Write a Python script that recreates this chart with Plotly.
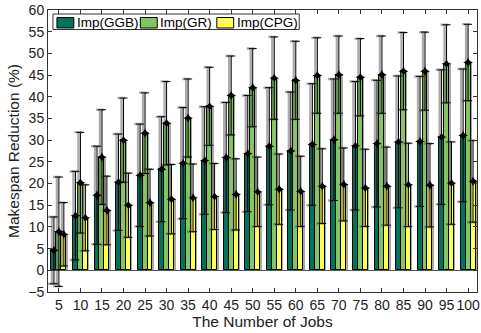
import plotly.graph_objects as go

jobs = [5, 10, 15, 20, 25, 30, 35, 40, 45, 50, 55, 60, 65, 70, 75, 80, 85, 90, 95, 100]
tick_labels = [str(j) for j in jobs]
series_names = ["Imp(GGB)", "Imp(GR)", "Imp(CPG)"]

ggb = [4.6, 12.6, 17.3, 20.3, 21.9, 23.3, 24.7, 25.3, 26.0, 26.9, 28.6, 27.5, 29.0, 30.1, 28.7, 29.2, 29.6, 29.7, 30.7, 31.1]
ggb_err = [7.7, 10.2, 11.3, 11.1, 11.8, 12.1, 12.8, 12.4, 12.7, 13.4, 13.5, 13.6, 14.0, 14.0, 14.8, 14.6, 15.2, 15.0, 15.5, 15.3]
gr = [8.9, 20.2, 26.1, 30.0, 31.6, 33.9, 35.1, 37.8, 40.3, 42.1, 44.3, 43.8, 44.9, 45.1, 44.5, 45.1, 45.9, 45.9, 47.6, 47.9]
gr_err = [12.6, 11.6, 10.9, 9.7, 9.3, 9.6, 9.0, 9.0, 9.1, 9.0, 9.5, 9.0, 8.7, 8.9, 8.9, 8.9, 8.9, 9.0, 9.0, 8.8]
cpg = [8.3, 12.1, 13.8, 15.0, 15.6, 16.4, 16.7, 17.0, 17.5, 18.1, 18.7, 18.2, 19.4, 19.8, 19.0, 19.4, 19.7, 19.6, 20.1, 20.5]
cpg_err = [7.3, 7.6, 7.9, 7.4, 7.7, 8.0, 7.8, 7.6, 8.2, 8.0, 8.1, 8.1, 8.6, 8.4, 8.9, 9.0, 9.6, 9.6, 9.5, 9.4]

colors = ["#00735a", "#84c561", "#ffff55"]
values = [ggb, gr, cpg]
errors = [ggb_err, gr_err, cpg_err]

BAR_W = 1.15          # bar width in x-data units
SHADOW_DX = 0.35      # bar drop-shadow shift
ERR_SHADOW_DX = -0.45 # error-bar shadow shift
FONT = "Liberation Sans, Arial, sans-serif"

fig = go.Figure()

offsets = [-1, 0, 1]
# bar shadows
for k, vals in zip(offsets, values):
    fig.add_trace(go.Bar(x=[j + k * BAR_W + SHADOW_DX for j in jobs], y=vals, width=BAR_W,
                         marker=dict(color="#a8a8a8", line=dict(width=0)),
                         showlegend=False, hoverinfo="skip"))
# bars
for k, name, vals, col in zip(offsets, series_names, values, colors):
    fig.add_trace(go.Bar(x=[j + k * BAR_W for j in jobs], y=vals, width=BAR_W, name=name,
                         marker=dict(color=col, line=dict(color="black", width=1)),
                         showlegend=False))
# error-bar shadows
for k, vals, err in zip(offsets, values, errors):
    fig.add_trace(go.Scatter(x=[j + k * BAR_W + ERR_SHADOW_DX for j in jobs], y=vals, mode="markers",
                             marker=dict(size=1, color="rgba(0,0,0,0)"),
                             error_y=dict(type="data", array=err, visible=True,
                                          color="rgba(70,70,70,0.45)", thickness=2.5, width=4),
                             showlegend=False, hoverinfo="skip"))
# error bars + markers
for k, vals, err in zip(offsets, values, errors):
    fig.add_trace(go.Scatter(x=[j + k * BAR_W for j in jobs], y=vals, mode="markers",
                             marker=dict(symbol="star-diamond", size=7, color="black"),
                             error_y=dict(type="data", array=err, visible=True,
                                          color="black", thickness=1, width=4),
                             showlegend=False))

# custom legend (paper coords)
def px2x(p):
    return (p - 48) / 432
def px2y(p):
    return (292 - p) / 282

shapes = [dict(type="rect", xref="paper", yref="paper", x0=px2x(53), x1=px2x(301),
               y0=px2y(29.5), y1=px2y(14), line=dict(color="#333", width=1), fillcolor="white", layer="above")]
annotations = []
sw_x = [57, 141, 218]
for sx, name, col in zip(sw_x, series_names, colors):
    shapes.append(dict(type="rect", xref="paper", yref="paper", x0=px2x(sx), x1=px2x(sx + 17),
                       y0=px2y(28), y1=px2y(17.5), line=dict(color="black", width=1), fillcolor=col,
                       layer="above"))
    annotations.append(dict(xref="paper", yref="paper", x=px2x(sx + 18), y=px2y(22.5), text=name,
                            showarrow=False, xanchor="left", yanchor="middle",
                            font=dict(family=FONT, size=13.5, color="black")))

fig.update_layout(
    width=481, height=333, margin=dict(l=48, r=1, t=10, b=41),
    barmode="overlay", bargap=0, plot_bgcolor="white", paper_bgcolor="white",
    font=dict(family=FONT, size=14, color="#222"),
    shapes=shapes, annotations=annotations,
    xaxis=dict(range=[2.47, 102.07], tickvals=jobs, ticktext=tick_labels, tickangle=0,
               ticklabeloverflow="allow",
               ticks="inside", ticklen=4, tickcolor="#333", showline=True, linecolor="#333",
               mirror="ticks", showgrid=False, zeroline=False,
               title=dict(text="The Number of Jobs", font=dict(size=15.5), standoff=2),
               tickfont=dict(size=14)),
    yaxis=dict(range=[-5, 60], tickvals=list(range(-5, 61, 5)), ticks="inside", ticklen=4,
               tickcolor="#333", showline=True, linecolor="#333", mirror="ticks", showgrid=False,
               zeroline=True, zerolinecolor="#555", zerolinewidth=1,
               title=dict(text="Makespan Reduction (%)", font=dict(size=15.5), standoff=4),
               tickfont=dict(size=14)),
)

fig.write_html("out.html")
